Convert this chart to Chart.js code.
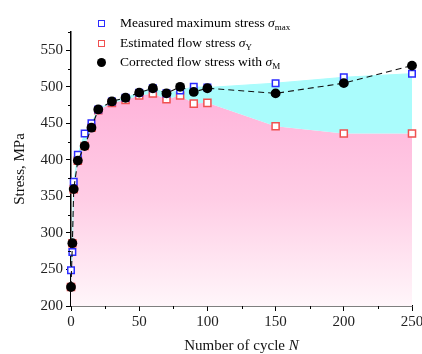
<!DOCTYPE html>
<html><head><meta charset="utf-8">
<script src="https://cdn.jsdelivr.net/npm/chart.js@4/dist/chart.umd.min.js"></script>
<style>
html,body{margin:0;padding:0;background:#fff;}
#wrap{position:relative;width:422px;height:354px;font-family:'Liberation Serif','Times New Roman',serif;overflow:hidden;}
canvas{position:absolute;left:0;top:0;}
.leg{position:absolute;left:120px;font-size:13.5px;line-height:16px;color:#000;white-space:nowrap;}
.leg sub{font-size:9px;vertical-align:-3px;line-height:0;}
.mk{position:absolute;box-sizing:border-box;}
#xt{position:absolute;left:71px;width:341px;top:336px;text-align:center;font-size:15px;line-height:18px;color:#111;}
</style></head><body>
<div id="wrap">
<canvas id="c" width="422" height="354"></canvas>
<span class="mk" style="left:98px;top:20px;width:7px;height:7px;border:1.5px solid #2b2bff;background:#fff"></span>
<span class="mk" style="left:98px;top:40px;width:7px;height:7px;border:1.5px solid #f05050;background:#fff"></span>
<span class="mk" style="left:97px;top:58px;width:9px;height:9px;border-radius:50%;background:#000"></span>
<div class="leg" style="top:15px">Measured maximum stress <i>σ</i><sub>max</sub></div>
<div class="leg" style="top:35px">Estimated flow stress <i>σ</i><sub>Y</sub></div>
<div class="leg" style="top:54px">Corrected flow stress with <i>σ</i><sub>M</sub></div>
<div id="xt">Number of cycle <i>N</i></div>
</div>
<script>
// ---- data ----
const cycles    = [0, 1, 2, 5, 10, 15, 20, 30, 40, 50, 60, 70, 80, 90, 100, 150, 200, 250];
const measured  = [249, 274, 370, 407, 436, 450, 469, 480, 485, 492, 498, 491, 495, 500, 499, 505, 513, 518];
const estimated = [226, 286, 360, 399, 419, 444, 468, 478, 482, 488, 491, 483, 488, 477, 478, 446, 436, 436];
const corrected = [226, 286, 360, 399, 419, 444, 469, 480, 485, 492, 498, 491, 500, 493, 498, 491, 505, 529];
const xTicks = [0, 50, 100, 150, 200, 250];
const yTicks = [200, 250, 300, 350, 400, 450, 500, 550];
const xMinorTicks = [25, 75, 125, 175, 225];
const yMinorTicks = [225, 275, 325, 375, 425, 475, 525, 575];

const pts = arr => cycles.map((n, i) => ({x: n, y: arr[i]}));
const FONT = "'Liberation Serif','Times New Roman',serif";

const pinkFill = (ctx) => {
  const chart = ctx.chart, a = chart.chartArea;
  if (!a) return '#ffb8dc';
  const g = chart.ctx.createLinearGradient(0, a.top + 60, 0, a.bottom);
  g.addColorStop(0, '#ffb3da');
  g.addColorStop(0.5, '#ffcde5');
  g.addColorStop(1, '#fff6fa');
  return g;
};

const minorTickPlugin = {
  id: 'minorTicks',
  afterDraw(chart) {
    const c = chart.ctx, xs = chart.scales.x, ys = chart.scales.y;
    c.save(); c.strokeStyle = '#000'; c.lineWidth = 1;
    xMinorTicks.forEach(v => { const p = Math.round(xs.getPixelForValue(v)) + 0.5;
      c.beginPath(); c.moveTo(p, ys.bottom); c.lineTo(p, ys.bottom + 3); c.stroke(); });
    yMinorTicks.forEach(v => { const p = Math.round(ys.getPixelForValue(v)) + 0.5;
      c.beginPath(); c.moveTo(xs.left, p); c.lineTo(xs.left - 3, p); c.stroke(); });
    c.restore();
  }
};

new Chart(document.getElementById('c'), {
  type: 'line',
  data: {
    datasets: [
      { label: 'Estimated flow stress', data: pts(estimated), order: 2,
        borderColor: 'rgba(0,0,0,0)', borderWidth: 0, backgroundColor: pinkFill, fill: 'start',
        pointStyle: 'rect', pointRadius: 5, pointBorderColor: '#f05050', pointBackgroundColor: '#fff',
        pointBorderWidth: 1.5, tension: 0, clip: false },
      { label: 'Measured maximum stress', data: pts(measured), order: 1,
        borderColor: '#a8fcfc', borderWidth: 1, backgroundColor: '#aafcfc',
        fill: {target: '-1', above: '#aafcfc', below: '#aafcfc'},
        pointStyle: 'rect', pointRadius: 4.6, pointBorderColor: '#2b2bff', pointBackgroundColor: '#fff',
        pointBorderWidth: 1.5, tension: 0, clip: false },
      { label: 'Corrected flow stress', data: pts(corrected), order: 0,
        borderColor: '#111', borderWidth: 1.1, borderDash: [6, 4], fill: false,
        pointStyle: 'circle', pointRadius: 4.9, pointBorderWidth: 0, pointBackgroundColor: '#000',
        tension: 0, clip: false }
    ]
  },
  options: {
    responsive: false, animation: false, devicePixelRatio: 1,
    layout: { padding: { top: 32, right: 10, left: 0, bottom: 0 } },
    plugins: { legend: { display: false }, tooltip: { enabled: false },
      filler: { drawTime: 'beforeDatasetsDraw' } },
    scales: {
      x: { type: 'linear', min: 0, max: 250,
        afterBuildTicks: s => { s.ticks = xTicks.map(v => ({value: v})); },
        afterFit: s => { s.height = 48; s.paddingLeft = 0; s.paddingRight = 0; },
        border: { color: '#000', width: 1.5 },
        grid: { drawOnChartArea: false, drawTicks: true, tickLength: 5, color: '#000', tickColor: '#000' },
        ticks: { color: '#222', font: { family: FONT, size: 15 }, padding: 2, maxRotation: 0 }
      },
      y: { type: 'linear', min: 200, max: 575,
        afterBuildTicks: s => { s.ticks = yTicks.map(v => ({value: v})); },
        afterFit: s => { s.width = 71; s.paddingTop = 0; s.paddingBottom = 0; },
        border: { color: '#000', width: 1.5 },
        grid: { drawOnChartArea: false, drawTicks: true, tickLength: 5, color: '#000', tickColor: '#000' },
        ticks: { color: '#222', font: { family: FONT, size: 15 }, padding: 3 },
        title: { display: true, text: 'Stress, MPa', color: '#111', font: { family: FONT, size: 15 },
          padding: { top: 11, bottom: 0 } }
      }
    }
  },
  plugins: [minorTickPlugin]
});
</script>
</body></html>
